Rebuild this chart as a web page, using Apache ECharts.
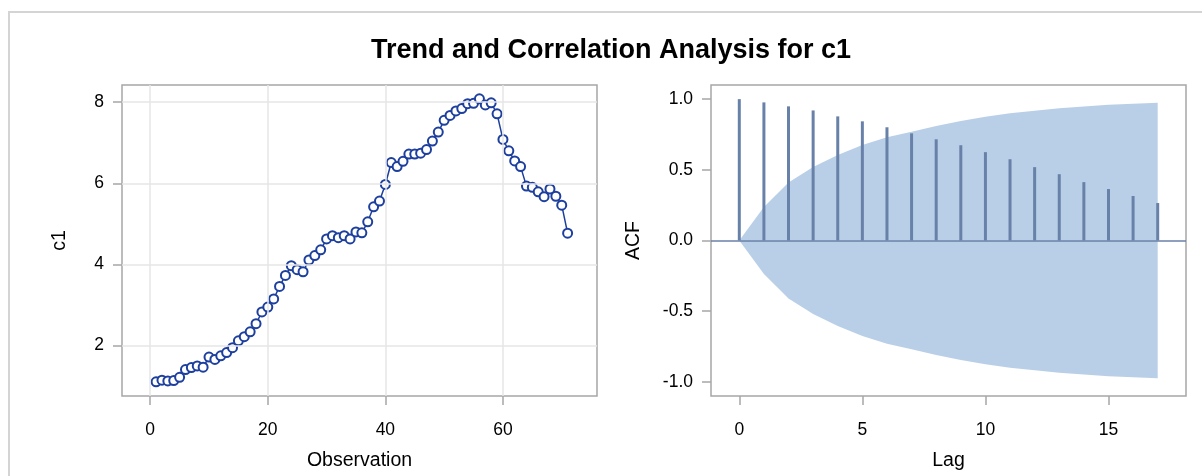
<!DOCTYPE html>
<html>
<head>
<meta charset="utf-8">
<script src="https://cdn.jsdelivr.net/npm/echarts@6/dist/echarts.min.js"></script>
<style>
  html, body { margin: 0; padding: 0; background: #fff; }
  #wrap { position: relative; width: 1202px; height: 476px; overflow: hidden; }
  #chart { position: absolute; left: 0; top: 0; width: 1202px; height: 476px; }
  #frame { position: absolute; left: 8px; top: 11px; width: 1300px; height: 600px;
           border-left: 2px solid #d4d4d4; border-top: 2px solid #d4d4d4; pointer-events: none; }
</style>
</head>
<body>
<div id="wrap">
  <div id="chart"></div>
  <div id="frame"></div>
</div>
<script>
// series c1, observations 1..71
var c1 = [1.11, 1.15, 1.13, 1.14, 1.22, 1.41, 1.46, 1.50, 1.47, 1.72,
          1.66, 1.75, 1.83, 1.95, 2.12, 2.22, 2.34, 2.54, 2.83, 2.95,
          3.15, 3.46, 3.73, 3.97, 3.87, 3.82, 4.11, 4.22, 4.36, 4.63,
          4.71, 4.66, 4.71, 4.63, 4.80, 4.78, 5.05, 5.42, 5.56, 5.97,
          6.51, 6.41, 6.54, 6.72, 6.72, 6.74, 6.83, 7.04, 7.26, 7.55,
          7.67, 7.78, 7.84, 7.96, 7.97, 8.08, 7.93, 7.98, 7.71, 7.08,
          6.80, 6.55, 6.41, 5.93, 5.90, 5.79, 5.67, 5.86, 5.68, 5.46,
          4.77];

// autocorrelations, lags 0..17
var lags = [0, 1, 2, 3, 4, 5, 6, 7, 8, 9, 10, 11, 12, 13, 14, 15, 16, 17];
var acf = [1.0, 0.977, 0.949, 0.920, 0.878, 0.843, 0.801, 0.758, 0.716, 0.674,
           0.625, 0.575, 0.519, 0.469, 0.413, 0.364, 0.315, 0.265];
// confidence band
var bandUpper = [0, 0.237, 0.41, 0.52, 0.605, 0.675, 0.73, 0.77, 0.81, 0.845,
                 0.875, 0.90, 0.918, 0.936, 0.948, 0.96, 0.967, 0.974];
var bandLower = [0, -0.237, -0.41, -0.52, -0.605, -0.675, -0.73, -0.77, -0.81, -0.845,
                 -0.875, -0.90, -0.918, -0.936, -0.948, -0.96, -0.967, -0.974];

// tick labels
var obsTicks = [0, 20, 40, 60];
var c1Ticks = [2, 4, 6, 8];
var lagTicks = [0, 5, 10, 15];
var acfTicks = [-1.0, -0.5, 0.0, 0.5, 1.0];

var font = "'Liberation Sans', Arial, sans-serif";
var frameColor = '#a6a6a6';
var gridColor = '#e6e6e6';
var lineColor = '#1d3f9e';
var barColor = '#6881a8';
var bandColor = '#b9cfe7';

function pair(xs, ys) {
  return xs.map(function (x, i) { return [x, ys[i]]; });
}

var axisText = { fontFamily: font, fontSize: 17.5, color: '#000' };
var nameText = { fontFamily: font, fontSize: 19.5, color: '#000' };

var chart = echarts.init(document.getElementById('chart'));
chart.setOption({
  backgroundColor: '#fff',
  animation: false,
  title: {
    text: 'Trend and Correlation Analysis for c1',
    left: 366, top: 32,
    textStyle: { fontFamily: font, fontSize: 27, fontWeight: 'bold', color: '#000' }
  },
  grid: [
    { left: 122, top: 85, width: 475, height: 313, show: true, borderColor: frameColor, borderWidth: 1.5, backgroundColor: 'transparent' },
    { left: 711, top: 85, width: 475, height: 313, show: true, borderColor: frameColor, borderWidth: 1.5, backgroundColor: 'transparent' }
  ],
  xAxis: [
    {
      gridIndex: 0, type: 'value', min: -4.8, max: 76,
      name: 'Observation', nameLocation: 'middle', nameGap: 55,
      nameTextStyle: nameText,
      axisLine: { show: false, onZero: false },
      axisTick: { show: true, length: 9, customValues: obsTicks, lineStyle: { color: frameColor, width: 1.5 } },
      axisLabel: Object.assign({ margin: 25, customValues: obsTicks }, axisText),
      splitLine: { show: false }
    },
    {
      gridIndex: 1, type: 'value', min: -1.15, max: 18.15,
      name: 'Lag', nameLocation: 'middle', nameGap: 55,
      nameTextStyle: nameText,
      axisLine: { show: false, onZero: false },
      axisTick: { show: true, length: 9, customValues: lagTicks, lineStyle: { color: frameColor, width: 1.5 } },
      axisLabel: Object.assign({ margin: 25, customValues: lagTicks }, axisText),
      splitLine: { show: false }
    }
  ],
  yAxis: [
    {
      gridIndex: 0, type: 'value', min: 0.76, max: 8.42,
      name: 'c1', nameLocation: 'middle', nameGap: 52,
      nameTextStyle: nameText,
      axisLine: { show: false, onZero: false },
      axisTick: { show: true, length: 9, customValues: c1Ticks, lineStyle: { color: frameColor, width: 1.5 } },
      axisLabel: Object.assign({ margin: 18, customValues: c1Ticks }, axisText),
      splitLine: { show: false }
    },
    {
      gridIndex: 1, type: 'value', min: -1.1, max: 1.1,
      name: 'ACF', nameLocation: 'middle', nameGap: 67,
      nameTextStyle: nameText,
      axisLine: { show: false, onZero: false },
      axisTick: { show: true, length: 9, customValues: acfTicks, lineStyle: { color: frameColor, width: 1.5 } },
      axisLabel: Object.assign({
        margin: 18, customValues: acfTicks,
        formatter: function (v) { return v.toFixed(1); }
      }, axisText),
      splitLine: { show: false }
    }
  ],
  series: [
    // reference grid for the trend panel
    {
      type: 'line', xAxisIndex: 0, yAxisIndex: 0, data: [], z: 1, silent: true,
      markLine: {
        silent: true, symbol: 'none', label: { show: false },
        lineStyle: { color: gridColor, width: 1.5, type: 'solid' },
        data: obsTicks.map(function (v) { return { xAxis: v }; })
          .concat(c1Ticks.map(function (v) { return { yAxis: v }; }))
      }
    },
    {
      type: 'line', xAxisIndex: 0, yAxisIndex: 0, z: 3,
      data: c1.map(function (v, i) { return [i + 1, v]; }),
      symbol: 'emptyCircle', symbolSize: 9,
      lineStyle: { color: lineColor, width: 1.5 },
      itemStyle: { color: lineColor, borderColor: lineColor, borderWidth: 1.8 }
    },
    // confidence band
    {
      type: 'line', xAxisIndex: 1, yAxisIndex: 1, z: 1, silent: true,
      data: pair(lags, bandUpper), symbol: 'none',
      lineStyle: { width: 0 }, areaStyle: { color: bandColor, opacity: 1 }
    },
    {
      type: 'line', xAxisIndex: 1, yAxisIndex: 1, z: 1, silent: true,
      data: pair(lags, bandLower), symbol: 'none',
      lineStyle: { width: 0 }, areaStyle: { color: bandColor, opacity: 1 }
    },
    {
      type: 'bar', xAxisIndex: 1, yAxisIndex: 1, z: 3,
      data: pair(lags, acf), barWidth: 3,
      itemStyle: { color: barColor },
      markLine: {
        silent: true, symbol: 'none', label: { show: false },
        lineStyle: { color: barColor, width: 1.5, type: 'solid' },
        data: [{ yAxis: 0 }]
      }
    }
  ]
});
</script>
</body>
</html>
